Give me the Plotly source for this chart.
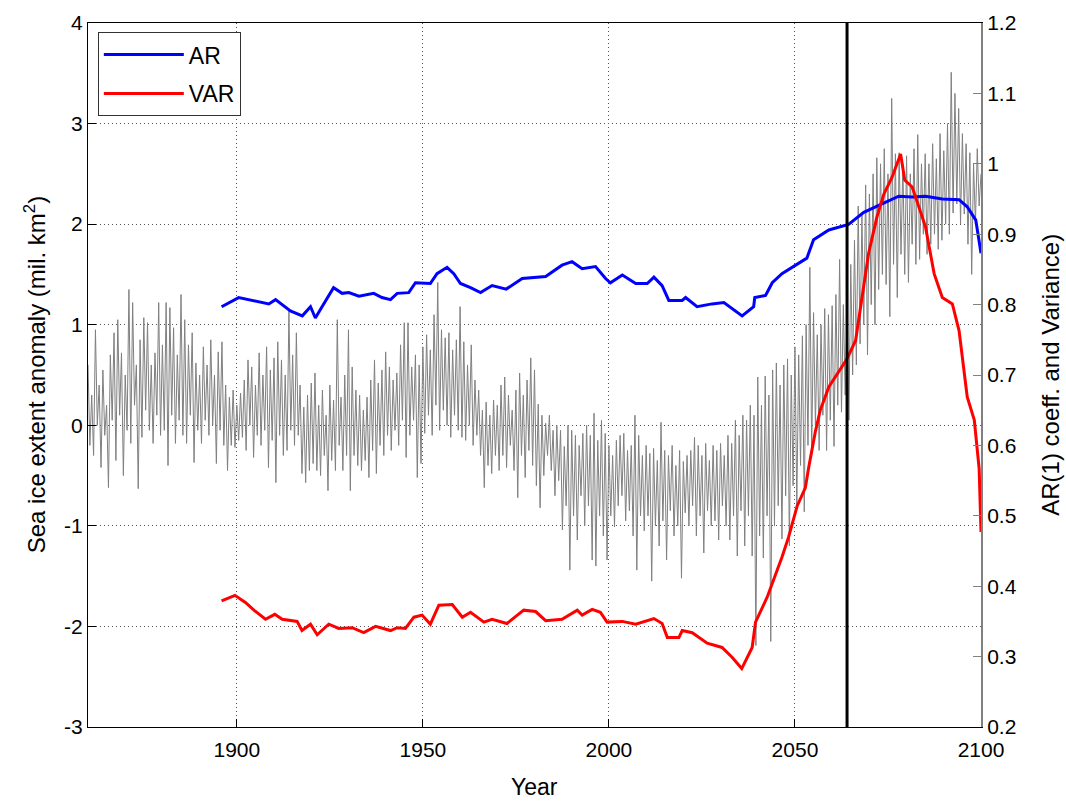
import numpy as np
import plotly.graph_objects as go

# ---------------- data ----------------
# Sea-ice extent anomaly (mil. km^2), two samples per year (1860.0 ... 2100.0)
gray_anomaly = [
    0.6, -0.2, 0.3, -0.3, 0.95, 0.0, 0.4, -0.42, 0.55, -0.1, 0.2, -0.62, 0.7, 0.05, 0.92, -0.35, 1.05, 0.1, 0.72, -0.5,
    0.5, -0.05, 1.35, -0.18, 1.22, 0.2, 0.6, -0.63, 0.85, -0.12, 1.07, 0.15, 1.02, -0.05, 0.6, -0.18, 0.72, 0.1, 1.22, -0.1,
    0.8, -0.05, 1.22, -0.4, 1.17, 0.1, 0.97, -0.18, 0.7, 0.05, 1.3, -0.1, 1.05, -0.18, 0.8, 0.1, 0.92, -0.37, 0.62, -0.05,
    0.5, -0.18, 0.78, 0.05, 0.6, -0.1, 0.85, 0.0, 0.5, -0.38, 0.73, -0.05, 0.83, -0.2, 0.4, -0.45, 0.28, -0.2, 0.35, -0.22,
    0.2, -0.15, 0.32, -0.12, 0.45, -0.25, 0.65, 0.0, 0.58, -0.32, 0.4, -0.1, 0.72, -0.2, 0.5, -0.05, 0.78, -0.42, 0.55, -0.15,
    0.67, -0.57, 0.83, -0.1, 0.65, -0.3, 0.5, -0.25, 1.15, -0.05, 0.7, -0.2, 0.92, -0.1, 0.4, -0.48, 0.18, -0.57, 0.3, -0.45,
    0.42, -0.38, 0.52, -0.45, 0.2, -0.5, 0.35, -0.3, 0.1, -0.65, 0.4, -0.35, 0.25, -0.45, 1.05, -0.2, 0.28, -0.45, 0.5, -0.3,
    0.95, -0.65, 0.58, -0.3, 0.35, -0.4, 0.3, -0.45, 0.15, -0.35, 0.28, -0.52, 0.45, -0.25, 0.65, -0.48, 0.42, -0.2, 0.55, -0.3,
    0.73, -0.1, 0.58, -0.25, 0.45, -0.05, 0.52, -0.2, 0.8, 0.05, 1.02, -0.32, 1.02, -0.1, 0.58, 0.05, 0.7, -0.52, 0.6, -0.38,
    0.78, -0.08, 0.9, 0.1, 0.75, -0.1, 1.1, 0.2, 1.42, -0.05, 0.95, 0.15, 0.87, 0.0, 0.92, -0.12, 0.75, 0.1, 0.85, -0.05,
    1.18, -0.12, 0.83, -0.15, 0.6, 0.0, 0.8, -0.2, 0.45, -0.1, 0.35, -0.3, 0.15, -0.62, 0.23, -0.4, 0.1, -0.48, 0.25, -0.3,
    0.2, -0.45, 0.4, -0.3, 0.48, -0.42, 0.3, -0.2, 0.15, -0.45, 0.35, -0.72, 0.52, -0.3, 0.3, -0.52, 0.45, -0.25, 0.67, -0.4,
    0.55, -0.6, 0.21, -0.82, 0.1, -0.5, 0.02, -0.3, 0.1, -0.45, -0.05, -0.7, 0.0, -0.55, -0.05, -1.04, -0.21, -0.8, 0.0, -1.44,
    -0.05, -0.9, -0.1, -1.14, -0.2, -0.7, -0.08, -1.0, 0.0, -0.8, -0.1, -1.34, 0.12, -1.4, -0.15, -0.9, 0.05, -1.1, -0.08, -1.34,
    -0.2, -0.9, -0.3, -1.01, -0.15, -0.8, -0.1, -0.7, -0.08, -0.95, -0.25, -0.85, -0.2, -1.1, 0.1, -1.44, -0.1, -0.9, -0.3, -1.05,
    -0.2, -0.9, -0.28, -1.55, -0.23, -1.0, -0.35, -1.2, 0.03, -0.95, -0.25, -1.34, -0.3, -0.85, -0.2, -1.1, -0.4, -1.0, -0.25, -1.52,
    -0.36, -0.87, -0.3, -1.0, -0.25, -0.8, -0.12, -1.1, -0.2, -0.9, -0.3, -1.27, -0.18, -0.85, -0.35, -1.0, -0.2, -0.95, -0.25, -1.14,
    -0.18, -0.8, -0.3, -1.0, -0.1, -1.14, -0.18, -0.9, 0.05, -1.3, -0.1, -0.85, 0.1, -1.2, 0.05, -0.9, 0.2, -1.3, 0.1, -2.19,
    0.48, -1.1, 0.2, -1.32, 0.49, -0.9, 0.3, -2.15, 0.55, -1.0, 0.62, -0.8, 0.4, -1.13, 0.6, -0.7, 0.66, -1.2, 0.5, -0.6,
    0.78, -0.82, 0.7, -0.4, 0.89, -0.86, 1.0, -0.2, 1.57, -0.29, 1.12, 0.0, 0.9, -0.25, 1.0, 0.1, 1.16, -0.25, 1.1, 0.05,
    1.19, -0.21, 1.3, 0.2, 1.65, 0.13, 1.2, 0.3, 1.08, 0.05, 1.6, 0.5, 1.84, 0.6, 2.18, 0.81, 2.1, 1.0, 2.39, 0.7,
    2.3, 1.2, 2.5, 1.0, 2.66, 1.35, 2.6, 1.5, 2.75, 1.4, 2.5, 1.08, 3.25, 1.6, 2.7, 1.27, 2.71, 1.7, 2.6, 1.5,
    2.68, 1.42, 2.5, 1.8, 2.75, 1.6, 2.89, 1.65, 2.6, 1.9, 2.7, 1.7, 2.6, 1.8, 2.8, 1.9, 2.65, 1.75, 2.9, 1.84,
    2.73, 2.0, 3.0, 1.9, 3.51, 2.11, 3.3, 2.2, 3.15, 2.0, 2.9, 2.1, 2.8, 1.8, 2.71, 1.5, 2.6, 2.0, 2.75, 2.18,
    2.5,
]
gray_years = np.linspace(1860, 2100, len(gray_anomaly))

# AR(1) coefficient (right axis)
ar_years = [1895.9, 1900.5, 1908.6, 1910.4, 1914.4, 1917.6, 1919.8, 1921.1, 1922.9, 1926.0, 1928.3, 1930.1,
            1932.8, 1936.8, 1939.0, 1941.3, 1943.1, 1946.2, 1948.0, 1952.0, 1953.8, 1956.5, 1958.3, 1960.1,
            1962.8, 1965.5, 1968.6, 1971.3, 1972.4, 1976.7, 1983.0, 1987.4, 1990.1, 1992.8, 1996.4, 1999.1,
            2000.4, 2003.6, 2007.2, 2010.3, 2012.1, 2014.3, 2016.1, 2019.7, 2020.6, 2023.7, 2027.7, 2030.9,
            2035.8, 2038.9, 2039.2, 2042.1, 2043.9, 2046.5, 2050.1, 2053.2, 2055.0, 2059.1, 2064.4, 2068.5,
            2073.4, 2077.9, 2081.5, 2085.1, 2089.6, 2094.1, 2096.3, 2098.6, 2100.0]
ar_values = [0.797, 0.810, 0.801, 0.807, 0.791, 0.784, 0.797, 0.781, 0.797, 0.824, 0.816, 0.817,
             0.812, 0.816, 0.810, 0.807, 0.816, 0.817, 0.831, 0.830, 0.844, 0.853, 0.844, 0.830,
             0.824, 0.817, 0.827, 0.824, 0.822, 0.837, 0.840, 0.856, 0.861, 0.851, 0.854, 0.837,
             0.831, 0.842, 0.830, 0.830, 0.839, 0.827, 0.806, 0.806, 0.810, 0.797, 0.801, 0.803,
             0.784, 0.797, 0.810, 0.813, 0.831, 0.844, 0.856, 0.866, 0.892, 0.906, 0.914, 0.931,
             0.943, 0.954, 0.953, 0.954, 0.950, 0.949, 0.939, 0.920, 0.873]

# Variance (right axis)
var_years = [1895.9, 1899.5, 1902.3, 1904.6, 1907.7, 1910.2, 1912.2, 1916.2, 1917.5, 1919.8, 1921.6, 1924.7,
             1927.4, 1931.0, 1934.1, 1937.3, 1941.3, 1943.1, 1945.3, 1947.6, 1949.8, 1952.0, 1954.3, 1957.9,
             1960.6, 1962.8, 1966.4, 1968.6, 1972.6, 1977.1, 1980.3, 1983.0, 1987.4, 1991.5, 1992.8, 1995.5,
             1997.7, 1999.5, 2003.6, 2007.2, 2012.1, 2014.3, 2015.7, 2018.8, 2019.7, 2022.4, 2026.4, 2030.4,
             2033.1, 2035.7, 2038.5, 2039.4, 2042.5, 2043.9, 2046.5, 2048.3, 2050.6, 2052.8, 2053.7, 2055.5,
             2056.8, 2059.1, 2061.3, 2064.0, 2066.3, 2068.0, 2069.8, 2072.0, 2073.9, 2076.1, 2078.4, 2079.5,
             2081.5, 2083.8, 2085.1, 2087.4, 2089.6, 2092.3, 2094.1, 2096.3, 2098.2, 2099.5, 2100.0]
var_values = [0.379, 0.387, 0.377, 0.366, 0.353, 0.360, 0.353, 0.350, 0.337, 0.346, 0.331, 0.346,
              0.340, 0.341, 0.334, 0.343, 0.337, 0.341, 0.340, 0.356, 0.359, 0.346, 0.373, 0.374,
              0.356, 0.363, 0.349, 0.353, 0.347, 0.366, 0.364, 0.351, 0.353, 0.366, 0.359, 0.367,
              0.363, 0.349, 0.350, 0.346, 0.354, 0.347, 0.327, 0.327, 0.337, 0.334, 0.319, 0.313,
              0.299, 0.283, 0.313, 0.349, 0.384, 0.403, 0.441, 0.470, 0.514, 0.540, 0.569, 0.620,
              0.650, 0.683, 0.701, 0.723, 0.749, 0.806, 0.873, 0.924, 0.957, 0.981, 1.014, 0.977,
              0.967, 0.931, 0.910, 0.844, 0.810, 0.801, 0.763, 0.669, 0.636, 0.567, 0.477]

threshold_year = 2064

x_ticks = [1900, 1950, 2000, 2050, 2100]
y_ticks = [-3, -2, -1, 0, 1, 2, 3, 4]
y_labels = ["-3", "-2", "-1", "0", "1", "2", "3", "4"]
y2_ticks = [0.2, 0.3, 0.4, 0.5, 0.6, 0.7, 0.8, 0.9, 1.0, 1.1, 1.2]
y2_labels = ["0.2", "0.3", "0.4", "0.5", "0.6", "0.7", "0.8", "0.9", "1", "1.1", "1.2"]

# ---------------- figure ----------------
FONT = "Liberation Sans, Arial, sans-serif"

fig = go.Figure()
fig.add_trace(go.Scatter(x=gray_years, y=gray_anomaly, mode="lines",
                         line=dict(color="#808080", width=1), showlegend=False,
                         hoverinfo="skip"))
fig.add_trace(go.Scatter(x=ar_years, y=ar_values, mode="lines", name="AR",
                         legendgroup="ar",
                         line=dict(color="#0000ff", width=3), yaxis="y2"))
fig.add_trace(go.Scatter(x=var_years, y=var_values, mode="lines", name="VAR",
                         legendgroup="var",
                         line=dict(color="#ff0000", width=3), yaxis="y2"))

fig.add_shape(type="line", xref="x", yref="paper", x0=threshold_year, x1=threshold_year,
              y0=0, y1=1, line=dict(color="black", width=3), layer="above")

grid_common = dict(showgrid=True, gridcolor="#555555", griddash="1px,3px", gridwidth=1,
                   zeroline=False)

fig.update_layout(
    width=1066, height=801,
    margin=dict(l=88, r=85, t=23, b=74),
    paper_bgcolor="white", plot_bgcolor="white",
    xaxis=dict(range=[1860, 2100], tickvals=x_ticks, ticks="inside", ticklen=8,
               tickcolor="black", showline=True, linecolor="black", linewidth=1,
               mirror=True, ticklabelstandoff=4,
               tickfont=dict(family=FONT, size=21, color="black"), **grid_common),
    yaxis=dict(range=[-3, 4], tickvals=y_ticks, ticktext=y_labels, ticks="inside",
               ticklen=8, tickcolor="black", showline=True, linecolor="black",
               linewidth=1,
               tickfont=dict(family=FONT, size=21, color="black"), **grid_common),
    yaxis2=dict(range=[0.2, 1.2], overlaying="y", side="right", tickvals=y2_ticks,
                ticktext=y2_labels, ticks="inside", ticklen=8, tickcolor="#808080",
                showline=True, linecolor="#808080", linewidth=2, showgrid=False,
                zeroline=False,
                tickfont=dict(family=FONT, size=21, color="black")),
    legend=dict(x=0.011, y=0.987, xanchor="left", yanchor="top",
                bordercolor="#333333", borderwidth=1, bgcolor="white",
                font=dict(family=FONT, size=23, color="black"),
                itemwidth=80, tracegroupgap=6),
    annotations=[
        dict(text="Year", xref="paper", yref="paper", x=0.5, y=-0.085,
             xanchor="center", yanchor="middle", showarrow=False,
             font=dict(family=FONT, size=23, color="black")),
        dict(text="Sea ice extent anomaly (mil. km<sup>2</sup>)", xref="paper", yref="paper",
             x=-0.059, y=0.5, xanchor="center", yanchor="middle", textangle=-90,
             showarrow=False, font=dict(family=FONT, size=24, color="black")),
        dict(text="AR(1) coeff. and Variance)", xref="paper", yref="paper",
             x=1.077, y=0.5, xanchor="center", yanchor="middle", textangle=-90,
             showarrow=False, font=dict(family=FONT, size=24, color="black")),
    ],
)

fig.write_html("out.html")
